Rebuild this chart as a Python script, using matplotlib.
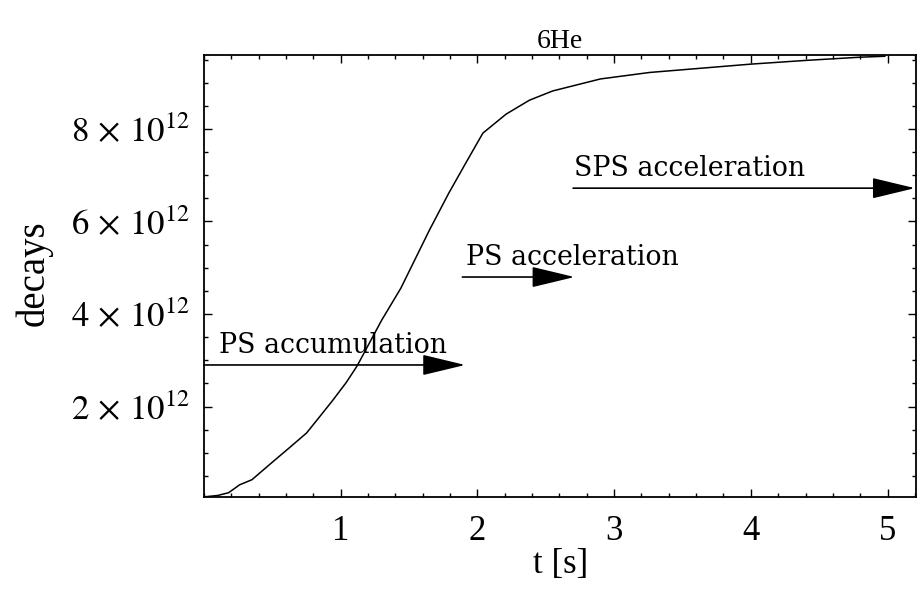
import numpy as np
import matplotlib.pyplot as plt
from matplotlib.ticker import MultipleLocator, FixedLocator
from matplotlib.patches import FancyArrowPatch

plt.rcParams['font.family'] = 'serif'
plt.rcParams['font.serif'] = ['Liberation Serif', 'DejaVu Serif']
plt.rcParams['mathtext.fontset'] = 'stix'

# decay curve, t in s, decays in units of 1e12
t = [0.0, 0.1, 0.18, 0.26, 0.35, 0.5, 0.62, 0.75, 0.84, 0.94, 1.04, 1.12,
     1.30, 1.44, 1.65, 1.79, 1.92, 2.04, 2.21, 2.38, 2.55, 2.90, 3.26, 3.63,
     4.0, 4.4, 4.8, 4.98]
decays = [0.05, 0.08, 0.14, 0.31, 0.42, 0.8, 1.1, 1.43, 1.76, 2.13, 2.52, 2.88,
          3.87, 4.56, 5.82, 6.61, 7.29, 7.91, 8.32, 8.62, 8.82, 9.08, 9.22, 9.31,
          9.40, 9.48, 9.55, 9.57]

# machine phases: name, start, end, level (1e12)
phases = ["PS accumulation", "PS acceleration", "SPS acceleration"]
phase_start = [0.0, 1.89, 2.70]
phase_end = [1.91, 2.71, 5.20]
phase_level = [2.9, 4.8, 6.72]
label_x = [0.11, 1.92, 2.71]

yticks = [2, 4, 6, 8]
ytick_labels = [r'$%d\,\times\,10^{12}$' % v for v in yticks]

fig = plt.figure(figsize=(9.19, 6.03), dpi=100)
ax = fig.add_axes([0.222, 0.176, 0.775, 0.733])

ax.plot(np.array(t), np.array(decays) * 1e12, color='black', lw=1.1)

for name, t0, t1, lev, lx in zip(phases, phase_start, phase_end, phase_level, label_x):
    arr = FancyArrowPatch((t0, lev * 1e12), (t1, lev * 1e12),
                          arrowstyle='-|>,head_length=27,head_width=6.5',
                          mutation_scale=1, color='black', lw=1.2,
                          shrinkA=0, shrinkB=0, clip_on=False)
    ax.add_patch(arr)
    ax.text(lx, lev * 1e12 + 0.26e12, name, fontsize=19.3,
            family='DejaVu Serif', va='baseline', ha='left')

ax.set_xlim(0, 5.21)
ax.set_ylim(0.05e12, 9.6e12)

ax.xaxis.set_major_locator(FixedLocator([1, 2, 3, 4, 5]))
ax.xaxis.set_minor_locator(MultipleLocator(0.2))
ax.yaxis.set_major_locator(FixedLocator([v * 1e12 for v in yticks]))
ax.yaxis.set_minor_locator(MultipleLocator(0.5e12))
ax.set_yticklabels(ytick_labels)

ax.tick_params(which='both', direction='in', top=True, right=True,
               width=1.0, labelsize=25)
ax.tick_params(axis='x', which='major', length=6, pad=13)
ax.tick_params(axis='y', which='major', length=6, pad=10)
ax.tick_params(which='minor', length=3)
for s in ax.spines.values():
    s.set_linewidth(1.3)

ax.set_xlabel('t [s]', fontsize=25, labelpad=0)
ax.set_ylabel('decays', fontsize=28)
ax.yaxis.set_label_coords(-0.212, 0.505)
ax.set_title('6He', fontsize=20, pad=5)

fig.savefig('out.png', dpi=100)
